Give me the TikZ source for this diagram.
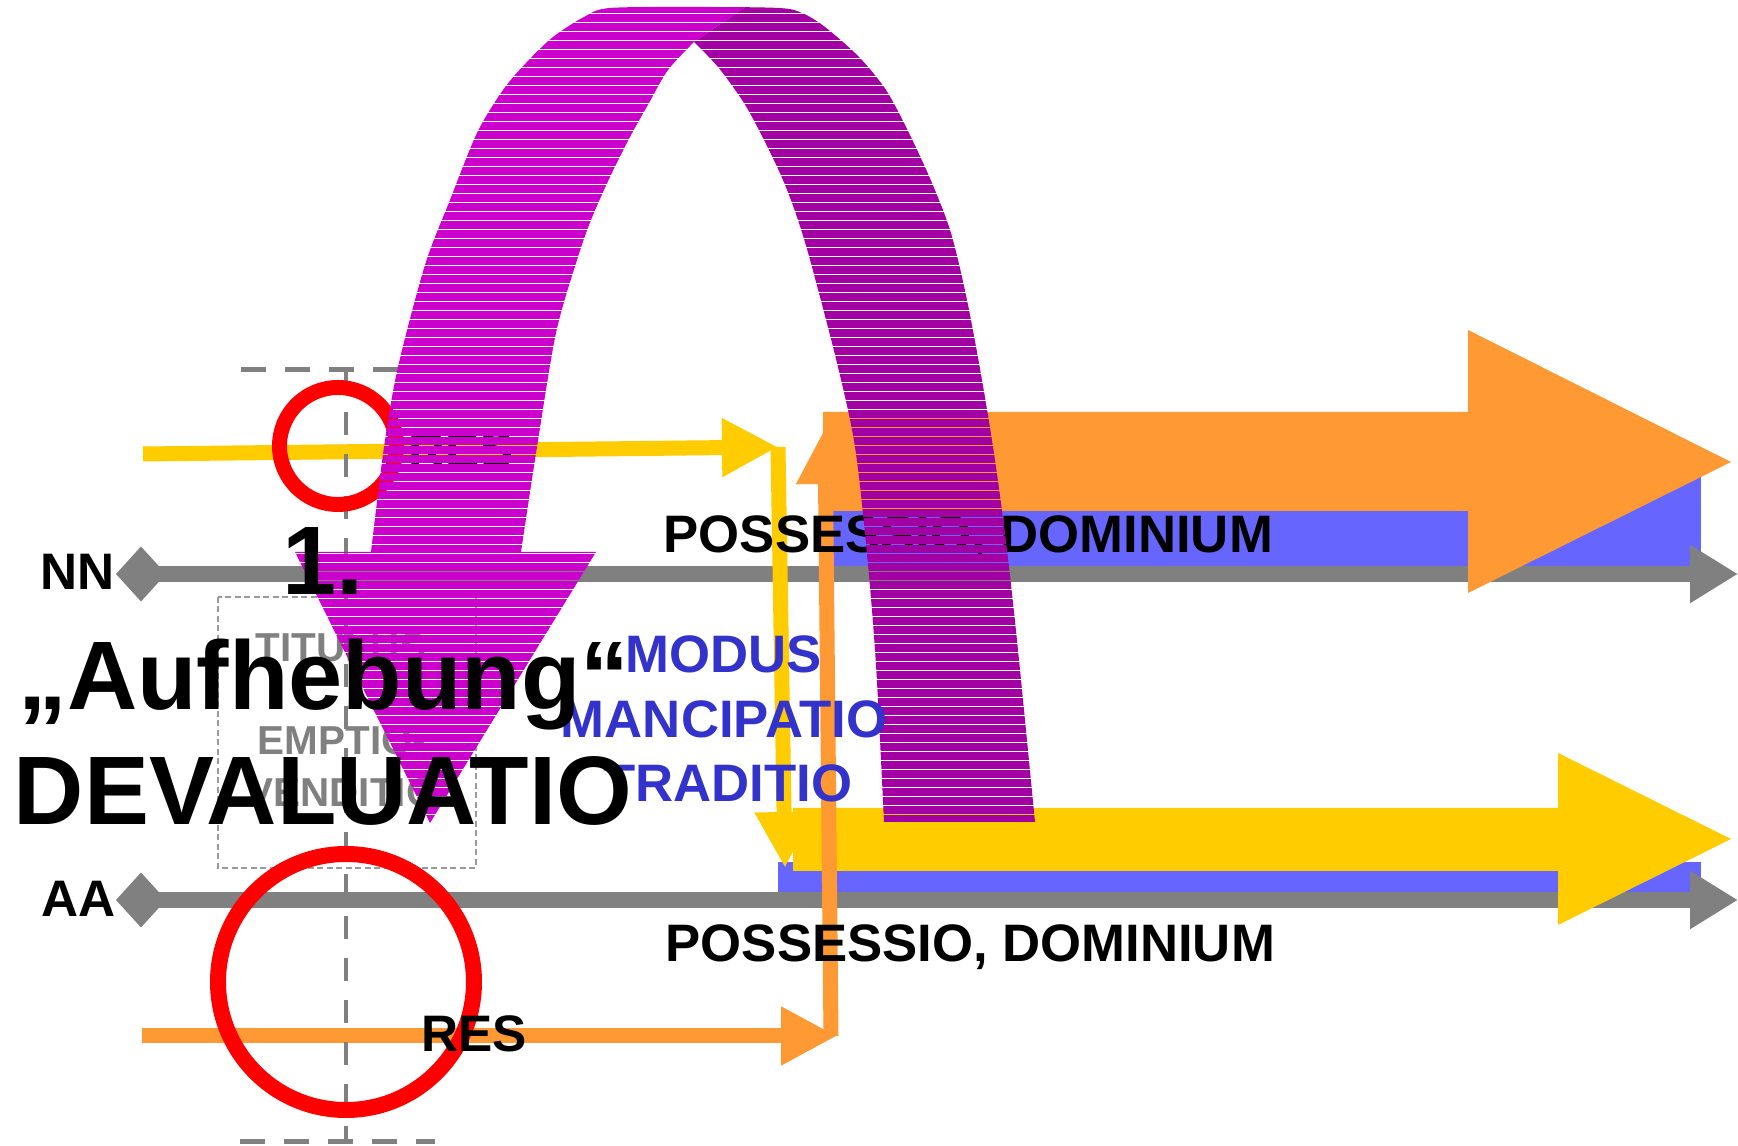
\documentclass[tikz,border=0pt]{standalone}
\usepackage{fontspec}
\setmainfont{Liberation Sans}
\usetikzlibrary{
  arrows.meta,    % arrow tips
}

\definecolor{resorange}{HTML}{FF9933}
\definecolor{resyellow}{HTML}{FFCC00}
\definecolor{possblue}{HTML}{6666FF}
\definecolor{modusblue}{HTML}{3333CC}
\definecolor{lineGray}{HTML}{808080}
\definecolor{archlight}{HTML}{CC00CC}
\definecolor{archdark}{HTML}{A300A3}

% outline of the big curved arrow
\newcommand{\archshape}{
  plot[smooth, tension=0.5] coordinates {(1035,822) (1018,650) (1007,550) (995,460)
    (982,380) (967,300) (951,233) (932,183) (909,133) (886,90) (859,57) (825,27)
    (802,13) (779,8) (700,7) (610,8) (584,17) (553,37) (526,63) (503,90) (477,133)
    (450,200) (425,265) (398,367) (384,447) (371,552)}
  -- (295,552) -- (430,823) -- (596,552) -- (521,552)
  -- plot[smooth, tension=0.5] coordinates {(521,552) (537,447) (556,333) (577,260)
    (591,220) (610,177) (630,137) (649,103) (668,70) (694,42)}
  -- plot[smooth, tension=0.5] coordinates {(694,42) (718,67) (744,103) (764,140)
    (783,180) (798,220) (812,267) (838,367) (855,447) (867,554) (876,665) (884,822)}
  -- cycle}

\begin{document}
\begin{tikzpicture}[
  x=0.1mm, y=-0.1mm,
  lbl/.style={inner sep=0pt, font=\fontsize{15pt}{18pt}\selectfont\bfseries},
  party/.style={inner sep=0pt, font=\fontsize{14.6pt}{17pt}\selectfont\bfseries},
  gray label/.style={inner sep=0pt, text=lineGray, font=\fontsize{11.5pt}{14pt}\selectfont\bfseries},
  modus/.style={lbl, text=modusblue},
  bigtext/.style={inner sep=0pt, font=\fontsize{27.7pt}{32pt}\selectfont\bfseries},
  timeline/.style={line width=1.6mm, lineGray,
    arrows={Diamond[length=5mm,width=5.5mm]-Triangle[length=4.8mm,width=5.5mm]}},
  flow/.style={line width=1.5mm, -{Triangle[length=5.6mm,width=5.5mm]}},
  ring/.style={draw=red, line width=1.5mm},
]
  \useasboundingbox (0,0) rectangle (1738,1146);
  \fill[white] (0,0) rectangle (1738,1146);

  % Possession bars
  \fill[possblue] (832,462) rectangle (1701,566);
  \fill[possblue] (778,862) rectangle (1701,892);

  % Time lines of the two parties
  \coordinate (nnstart) at (116,574);
  \coordinate (nnend)   at (1738,574);
  \coordinate (aastart) at (116,900);
  \coordinate (aaend)   at (1738,900);
  \draw[timeline] (nnstart) -- (nnend);
  \draw[timeline] (aastart) -- (aaend);

  % Big arrows
  \fill[resorange] (823,412) -- (1468,412) -- (1468,330) -- (1731,462)
    -- (1468,593) -- (1468,511) -- (823,511) -- cycle;
  \fill[resyellow] (793,808) -- (1558,808) -- (1558,753) -- (1731,839)
    -- (1558,925) -- (1558,871) -- (793,871) -- cycle;

  % Thin arrows (res)
  \coordinate (ystart)  at (143,454);
  \coordinate (ycorner) at (778,447);
  \coordinate (yend)    at (785,868);
  \coordinate (ostart)  at (142,1036);
  \coordinate (ocorner) at (837,1036);
  \coordinate (obottom) at (831,1036);
  \coordinate (oend)    at (825,428);
  \draw[flow, resyellow] (ystart) -- (ycorner);
  \draw[flow, resyellow] (ycorner) -- (yend);
  \draw[flow, resorange] (ostart) -- (ocorner);
  \draw[flow, resorange] (obottom) -- (oend);

  % Dashed bracket
  \draw[lineGray, line width=0.5mm, dash pattern=on 2.5mm off 1.9mm]
    (241,370) -- (433,370) (240,1142) -- (435,1142);
  \draw[lineGray, line width=0.45mm, dash pattern=on 2.3mm off 1.9mm]
    (346,370) -- (346,1142);
  \draw[gray!80, line width=0.2mm, dash pattern=on 0.6mm off 0.35mm]
    (218,597) rectangle (476,868);

  % Red circles
  \draw[ring] (338,446) circle[radius=5.85mm];
  \draw[ring, line width=1.6mm] (346,982) circle[radius=12.8mm];

  % Labels
  \node[party, anchor=base east] (nn) at (115,590) {NN};
  \node[party, anchor=base east] (aa) at (116,917) {AA};
  \node[lbl, anchor=base west] (possnn) at (663,553) {POSSESSIO, DOMINIUM};
  \node[lbl, anchor=base west] (possaa) at (665,962) {POSSESSIO, DOMINIUM};
  \node[party, anchor=base west] (resnn) at (408,468) {RES};
  \node[party, anchor=base west] (resaa) at (421,1052) {RES};
  \node[gray label, anchor=base] (titulus)  at (341,662) {TITULUS};
  \node[gray label, anchor=base] (emptio)   at (342,755) {EMPTIO-};
  \node[gray label, anchor=base] (venditio) at (342,807) {VENDITIO};

  % Curved arrow, striped
  \begin{scope}
    \clip \archshape;
    \clip (694,1200) -- (694,42) -- (903,-100) -- (-100,-100) -- (-100,1200) -- cycle;
    \foreach \y in {5,9.5,...,830}
      \fill[archlight] (280,\y) rectangle (1050,\y+3.7);
  \end{scope}
  \begin{scope}
    \clip \archshape;
    \clip (694,1200) -- (694,42) -- (903,-100) -- (1900,-100) -- (1900,1200) -- cycle;
    \foreach \y in {5,9.5,...,830}
      \fill[archdark] (280,\y) rectangle (1050,\y+3.7);
  \end{scope}

  % Modus
  \node[modus, anchor=base] (modus)  at (724,673) {MODUS};
  \node[modus, anchor=base] (mancip) at (724,738) {MANCIPATIO};
  \node[modus, anchor=base] (tradit) at (728,802) {TRADITIO};

  % Title
  \node[bigtext, anchor=base] (num)   at (323,595) {1.};
  \node[bigtext, anchor=base] (aufh)  at (324,710) {„Aufhebung“};
  \node[bigtext, anchor=base] (deval) at (323,825) {DEVALUATIO};
\end{tikzpicture}
\end{document}
